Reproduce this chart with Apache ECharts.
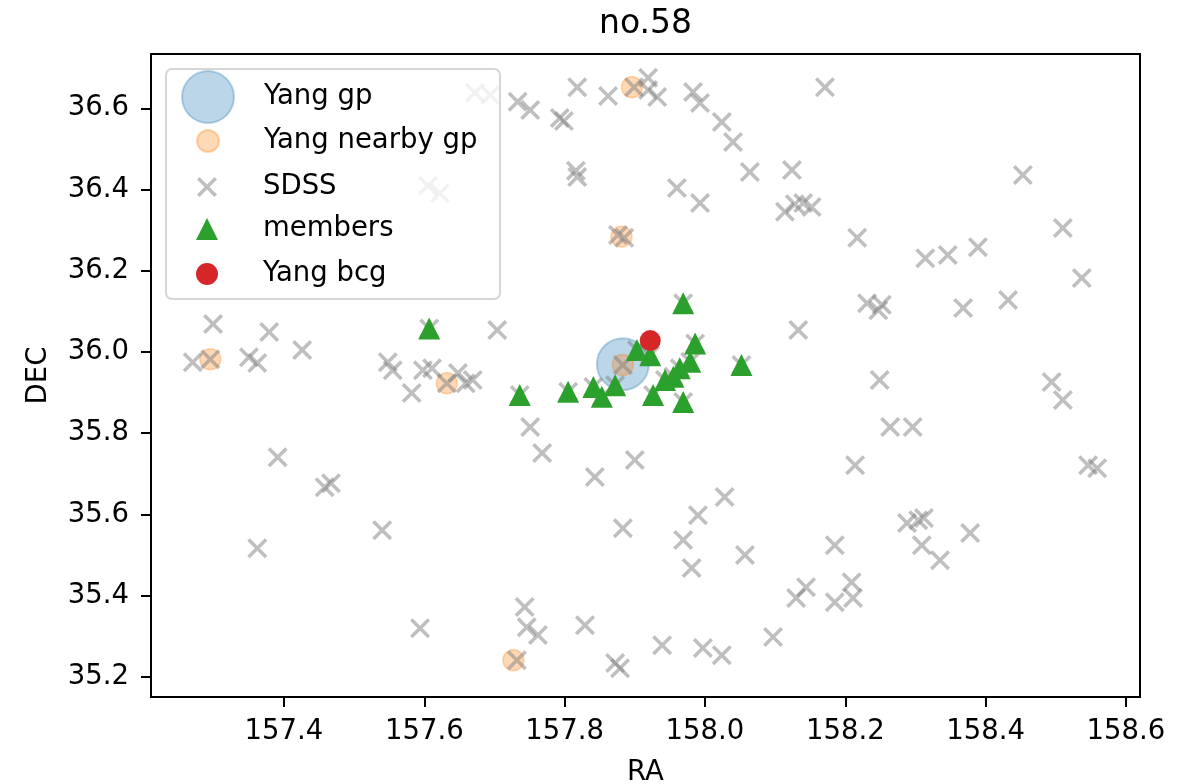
<!DOCTYPE html>
<html>
<head>
<meta charset="utf-8">
<script src="https://cdn.jsdelivr.net/npm/echarts@6/dist/echarts.min.js"></script>
<style>
  html, body { margin: 0; padding: 0; background: #fff; }
  #chart { width: 1186px; height: 784px; }
</style>
</head>
<body>
<div id="chart"></div>
<script>
// Tick positions for both axes
const raTicks = [157.4, 157.6, 157.8, 158.0, 158.2, 158.4, 158.6];
const decTicks = [35.2, 35.4, 35.6, 35.8, 36.0, 36.2, 36.4, 36.6];

// Group centre [RA, DEC]
const yangGroup = [[157.883, 35.970]];

// Neighbouring groups
const nearbyGroups = [
  [157.883, 35.968], [157.295, 35.982], [157.632, 35.923],
  [157.896, 36.652], [157.881, 36.284], [157.727, 35.241]
];

// Spectroscopic members of the group
const members = [
  [157.607, 36.058], [157.736, 35.894], [157.805, 35.902], [157.841, 35.914],
  [157.853, 35.890], [157.872, 35.918], [157.903, 36.005], [157.922, 35.992],
  [157.986, 36.021], [157.979, 35.976], [157.964, 35.960], [157.955, 35.939],
  [157.943, 35.931], [158.052, 35.968], [157.969, 36.120], [157.926, 35.894],
  [157.969, 35.877]
];

// Brightest group galaxy
const yangBcg = [[157.922, 36.028]];

// Other SDSS galaxies in the field (members are SDSS galaxies too)
const sdssGalaxies = [
  [157.299, 36.069], [157.379, 36.049], [157.426, 36.005], [157.270, 35.975], [157.295, 35.982],
  [157.350, 35.987], [157.362, 35.973],
  [157.548, 35.975], [157.555, 35.955], [157.582, 35.899], [157.598, 35.955], [157.611, 35.960],
  [157.632, 35.923], [157.648, 35.948], [157.659, 35.923], [157.669, 35.931], [157.704, 36.054],
  [157.672, 36.638], [157.694, 36.633], [157.733, 36.616], [157.751, 36.596], [157.793, 36.576],
  [157.799, 36.569], [157.818, 36.652], [157.862, 36.630], [157.899, 36.652], [157.919, 36.675],
  [157.919, 36.645], [157.932, 36.628], [157.983, 36.640], [157.993, 36.613], [158.024, 36.566],
  [158.040, 36.517], [158.064, 36.443],
  [157.816, 36.446], [157.818, 36.431], [157.960, 36.404], [157.993, 36.367], [157.876, 36.288],
  [157.885, 36.281],
  [158.124, 36.448], [158.114, 36.345], [158.128, 36.364], [158.140, 36.367], [158.152, 36.357],
  [158.171, 36.652], [158.453, 36.436],
  [158.217, 36.281], [158.314, 36.231], [158.346, 36.239], [158.389, 36.258], [158.510, 36.305],
  [158.537, 36.182],
  [158.231, 36.120], [158.247, 36.103], [158.252, 36.116], [158.368, 36.108], [158.432, 36.128],
  [158.133, 36.054],
  [158.249, 35.931], [158.494, 35.926], [158.510, 35.882], [158.264, 35.815], [158.296, 35.815],
  [158.214, 35.721], [158.546, 35.721], [158.559, 35.714],
  [158.288, 35.579], [158.304, 35.586], [158.312, 35.591], [158.309, 35.524], [158.335, 35.487],
  [158.378, 35.554], [158.185, 35.524],
  [158.130, 35.394], [158.144, 35.421], [158.209, 35.433], [158.185, 35.384], [158.211, 35.394],
  [157.751, 35.815], [157.768, 35.751], [157.900, 35.734], [157.843, 35.692], [158.028, 35.643],
  [157.990, 35.598], [157.883, 35.566], [157.969, 35.537], [158.057, 35.500], [157.981, 35.468],
  [157.743, 35.372], [157.746, 35.322], [157.762, 35.303], [157.829, 35.327], [158.097, 35.298],
  [157.939, 35.278], [157.997, 35.271], [158.024, 35.253], [157.732, 35.241], [157.872, 35.234],
  [157.879, 35.221],
  [157.391, 35.741], [157.458, 35.667], [157.467, 35.677], [157.540, 35.561], [157.362, 35.517],
  [157.594, 35.320],
  [157.605, 36.409], [157.622, 36.391], [157.883, 35.968]
];

const FONT = 'DejaVu Sans';
const CROSS = 'path://M0,2.5 L2.5,0 L10,7.5 L17.5,0 L20,2.5 L12.5,10 L20,17.5 L17.5,20 L10,12.5 L2.5,20 L0,17.5 L7.5,10 Z';

// Legend rows: marker size and vertical centre of each row
const legendRows = [
  { name: 'Yang gp', size: 52, cy: 96 },
  { name: 'Yang nearby gp', size: 22, cy: 141 },
  { name: 'SDSS', size: 20, cy: 187 },
  { name: 'members', size: 22, cy: 229 },
  { name: 'Yang bcg', size: 22, cy: 274 }
];
const legendIconX = 207, legendTextX = 263, legendLine = 30;

const legends = legendRows.map(r => {
  const h = Math.max(r.size, legendLine);
  const left = legendIconX - r.size / 2;
  return {
    data: [r.name],
    left: left,
    top: r.cy - h / 2,
    padding: 0,
    itemWidth: r.size,
    itemHeight: r.size,
    selectedMode: false,
    textStyle: {
      fontFamily: FONT, fontSize: 27.5, color: '#000', lineHeight: legendLine,
      padding: [0, 0, 0, legendTextX - (left + r.size + 5)]
    }
  };
});

const chart = echarts.init(document.getElementById('chart'), null, { renderer: 'canvas' });
chart.setOption({
  animation: false,
  backgroundColor: '#fff',
  title: {
    text: 'no.58',
    left: 645.5,
    top: 8,
    padding: 0,
    textAlign: 'center',
    textStyle: { fontFamily: FONT, fontSize: 33, fontWeight: 'normal', color: '#000' }
  },
  legend: legends,
  graphic: [{
    type: 'rect',
    z: 3,
    shape: { x: 166, y: 69, width: 334, height: 230, r: 6 },
    style: { fill: 'rgba(255,255,255,0.8)', stroke: 'rgba(204,204,204,0.8)', lineWidth: 2 }
  }],
  grid: {
    left: 151, right: 46, top: 54, bottom: 87,
    outerBoundsMode: 'none',
    show: true, borderColor: '#000', borderWidth: 2, backgroundColor: '#fff'
  },
  xAxis: {
    type: 'value',
    min: 157.2105, max: 158.62,
    name: 'RA', nameLocation: 'middle', nameGap: 62,
    nameTextStyle: { fontFamily: FONT, fontSize: 27.5, color: '#000' },
    axisLine: { show: false },
    splitLine: { show: false },
    axisTick: { show: true, length: 10, customValues: raTicks, lineStyle: { color: '#000', width: 2 } },
    axisLabel: {
      customValues: raTicks, formatter: v => v.toFixed(1),
      fontFamily: FONT, fontSize: 27.5, color: '#000', margin: 21
    }
  },
  yAxis: {
    type: 'value',
    min: 35.1505, max: 36.7337,
    name: 'DEC', nameLocation: 'middle', nameGap: 98,
    nameTextStyle: { fontFamily: FONT, fontSize: 27.5, color: '#000' },
    axisLine: { show: false },
    splitLine: { show: false },
    axisTick: { show: true, length: 10, customValues: decTicks, lineStyle: { color: '#000', width: 2 } },
    axisLabel: {
      customValues: decTicks, formatter: v => v.toFixed(1),
      fontFamily: FONT, fontSize: 27.5, color: '#000', margin: 22
    }
  },
  series: [
    {
      name: 'Yang gp', type: 'scatter', data: yangGroup, symbol: 'circle', symbolSize: 52,
      itemStyle: { color: 'rgba(31,119,180,0.3)', borderColor: 'rgba(31,119,180,0.3)', borderWidth: 2, opacity: 1 }
    },
    {
      name: 'Yang nearby gp', type: 'scatter', data: nearbyGroups, symbol: 'circle', symbolSize: 21,
      itemStyle: { color: 'rgba(255,127,14,0.3)', borderColor: 'rgba(255,127,14,0.3)', borderWidth: 1.5, opacity: 1 }
    },
    {
      name: 'SDSS', type: 'scatter', data: sdssGalaxies.concat(members), symbol: CROSS, symbolSize: 20,
      symbolKeepAspect: true,
      itemStyle: { color: 'rgba(128,128,128,0.5)', opacity: 1 }
    },
    {
      name: 'members', type: 'scatter', data: members, symbol: 'triangle', symbolSize: 22,
      itemStyle: { color: '#2ca02c', opacity: 1 }
    },
    {
      name: 'Yang bcg', type: 'scatter', data: yangBcg, symbol: 'circle', symbolSize: 21,
      itemStyle: { color: '#d62728', opacity: 1 }
    }
  ]
});
</script>
</body>
</html>
